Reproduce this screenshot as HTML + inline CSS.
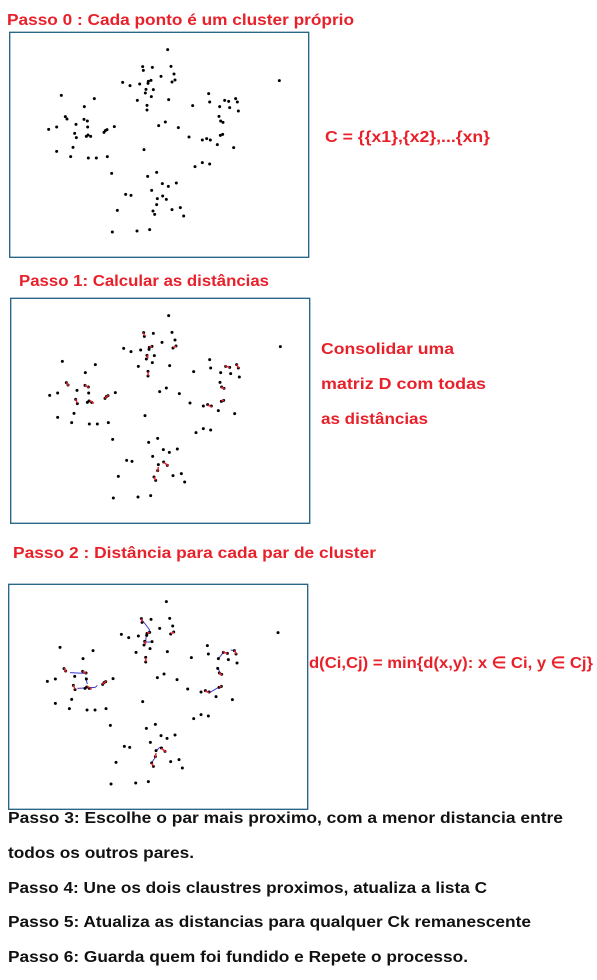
<!DOCTYPE html>
<html><head><meta charset="utf-8"><style>
html,body{margin:0;padding:0;background:#fff;}
svg{display:block;}
text{font-family:"Liberation Sans",sans-serif;font-weight:bold;font-size:16px;}
.r{fill:#e8202a;} .k{fill:#111;}
</style></head><body>
<svg id="s" width="597" height="980" viewBox="0 0 597 980">
<text class="r" x="7" y="25" textLength="347" lengthAdjust="spacingAndGlyphs">Passo 0 : Cada ponto é um cluster próprio</text>
<rect x="9.7" y="32.3" width="299" height="225" fill="none" stroke="#1f5f7f" stroke-width="1.3"/>
<text class="r" x="325" y="142" textLength="165" lengthAdjust="spacingAndGlyphs">C = {{x1},{x2},...{xn}</text>
<text class="r" x="19" y="286" textLength="250" lengthAdjust="spacingAndGlyphs">Passo 1: Calcular as distâncias</text>
<rect x="10.7" y="298.3" width="299" height="225" fill="none" stroke="#1f5f7f" stroke-width="1.3"/>
<text class="r" x="321" y="354" textLength="133" lengthAdjust="spacingAndGlyphs">Consolidar uma</text>
<text class="r" x="321" y="389" textLength="165" lengthAdjust="spacingAndGlyphs">matriz D com todas</text>
<text class="r" x="321" y="424" textLength="107" lengthAdjust="spacingAndGlyphs">as distâncias</text>
<text class="r" x="13" y="558" textLength="363" lengthAdjust="spacingAndGlyphs">Passo 2 :  Distância para cada par de cluster</text>
<rect x="8.7" y="584.3" width="299" height="225" fill="none" stroke="#1f5f7f" stroke-width="1.3"/>
<text class="r" x="309" y="668" textLength="284" lengthAdjust="spacingAndGlyphs">d(Ci,Cj) = min{d(x,y): x ∈ Ci, y ∈ Cj}</text>
<text class="k" x="8" y="823" textLength="555" lengthAdjust="spacingAndGlyphs">Passo 3: Escolhe o par mais proximo, com a menor distancia entre</text>
<text class="k" x="8" y="858" textLength="186" lengthAdjust="spacingAndGlyphs">todos os outros pares.</text>
<text class="k" x="8" y="893" textLength="479" lengthAdjust="spacingAndGlyphs">Passo 4:  Une os dois claustres proximos, atualiza a lista C</text>
<text class="k" x="8" y="927" textLength="523" lengthAdjust="spacingAndGlyphs">Passo 5: Atualiza as distancias para qualquer Ck remanescente</text>
<text class="k" x="8" y="962" textLength="460" lengthAdjust="spacingAndGlyphs">Passo 6: Guarda quem foi fundido e Repete o processo.</text>
</svg>
<script>
const px=[479,404,406,433,489,498,459,501,492,429,421,420,395,344,366,414,436,412,430,388,482,417,417,814,160,259,229,602,605,650,662,683,688,635,665,691,554,633,638,645,172,177,228,238,204,239,122,146,200,205,235,240,248,288,292,297,319,452,472,511,543,583,596,607,637,644,628,677,195,146,188,241,265,298,408,561,583,605,311,419,446,463,481,505,431,353,369,464,475,448,446,435,440,492,517,527,328,313,387,425];
const py=[59,110,121,112,109,132,139,150,156,151,154,160,162,157,167,178,179,189,200,211,209,226,240,152,196,206,230,191,216,211,214,206,216,230,233,243,227,259,273,277,260,267,268,273,283,291,298,291,310,323,319,315,319,307,302,299,290,287,276,293,321,330,326,330,316,313,344,353,352,364,380,384,384,380,359,410,398,402,430,439,427,461,469,459,481,493,496,498,508,506,524,543,553,539,533,558,541,606,603,599];
const redA=[[403,110,407,120],[421,153,429,151],[415,177,417,187],[493,155,502,150],[417,227,418,239],[172,259,179,270],[228,267,239,275],[200,309,205,322],[242,313,255,322],[287,307,299,297],[648,209,662,215],[683,205,689,217],[637,272,647,280],[595,327,608,332],[637,315,645,312],[464,499,479,510],[448,513,446,527],[435,543,440,553]];
const blueA=[[404,111,429,144],[429,144,422,154],[419,154,417,180],[417,180,440,180],[190,272,234,274],[236,286,242,306],[212,319,266,316],[266,316,272,310],[634,232,649,212],[672,204,684,206],[634,256,638,269],[610,331,636,316],[436,540,449,522],[451,504,459,496],[459,496,469,497]];
const NS='http://www.w3.org/2000/svg';
const svg=document.getElementById('s');
const panels=[[8,30,false,false],[9,296,true,false],[6.7,582,true,true]];
function X(o,v){return o[0]+v/3;}
function Y(o,v){return o[1]+v/3;}
panels.forEach((o,pi)=>{
  const g=document.createElementNS(NS,'g');
  
  
  svg.appendChild(g);
  if(o[3]){blueA.forEach(b=>{
    const l=document.createElementNS(NS,'line');
    
    
    l.setAttribute('x1',X(o,b[0]));l.setAttribute('y1',Y(o,b[1]));l.setAttribute('x2',X(o,b[2]));l.setAttribute('y2',Y(o,b[3]));
    l.setAttribute('stroke','#3a3ad0');l.setAttribute('stroke-width','1');g.appendChild(l);});}
  px.forEach((v,i)=>{
    const c=document.createElementNS(NS,'circle');
    
    
    c.setAttribute('cx',X(o,v));c.setAttribute('cy',Y(o,py[i]));c.setAttribute('r','1.5');c.setAttribute('fill','#000');g.appendChild(c);});
  if(o[2]){redA.forEach(b=>{
    const l=document.createElementNS(NS,'line');
    
    
    l.setAttribute('x1',X(o,b[0]));l.setAttribute('y1',Y(o,b[1]));l.setAttribute('x2',X(o,b[2]));l.setAttribute('y2',Y(o,b[3]));
    l.setAttribute('stroke','#e8202a');l.setAttribute('stroke-width','1.4');g.appendChild(l);});}
});
</script>
</body></html>
